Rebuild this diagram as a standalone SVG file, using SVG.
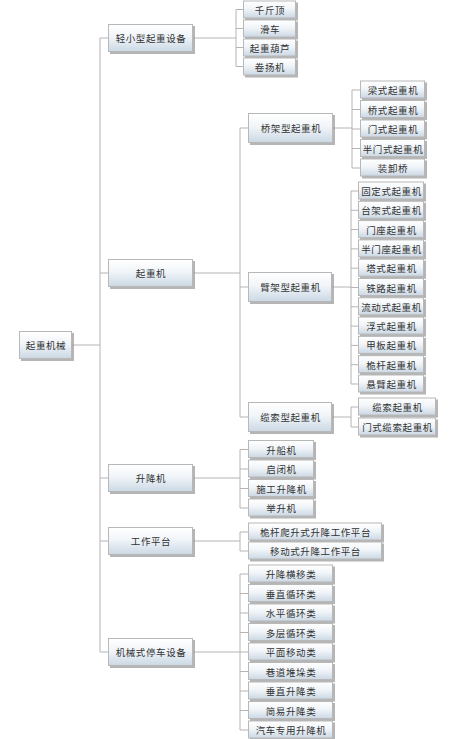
<svg xmlns="http://www.w3.org/2000/svg" width="467" height="739" viewBox="0 0 467 739">
<defs>
<linearGradient id="g" x1="0" y1="0" x2="0" y2="1">
<stop offset="0" stop-color="#ffffff"/>
<stop offset="0.45" stop-color="#f1f5f9"/>
<stop offset="1" stop-color="#cbd8e4"/>
</linearGradient>
</defs>
<style>
.sh{fill:#9c9c9c;opacity:0.75}
.bx{fill:url(#g);stroke:#b8b8b8;stroke-width:1}
.t{font-family:"Noto Sans CJK SC","Noto Sans CJK JP",sans-serif;font-size:9.5px;letter-spacing:0.6px;fill:#333333;text-anchor:middle;dominant-baseline:central}
.c{fill:none;stroke:#b4b4b4;stroke-width:1}
</style>
<rect width="467" height="739" fill="#ffffff"/>
<g id="connectors" class="c">
<path d="M72 345H100M100 38V652M100 38H108M100 273H108M100 478H108M100 541H108M100 652H108"/>
<path d="M193 38H236M236 9.5V66.5M236 9.5H243M236 28.5H243M236 47.5H243M236 66.5H243"/>
<path d="M193 273H240M240 128V417M240 128H248M240 287H248M240 417H248"/>
<path d="M333 128H352M352 90V168M352 90H360M352 109.5H360M352 129H360M352 148.5H360M352 168H360"/>
<path d="M332 287H351M351 191V384M351 191H358M351 210.3H358M351 229.6H358M351 248.9H358M351 268.2H358M351 287.5H358M351 306.8H358M351 326.1H358M351 345.4H358M351 364.7H358M351 384H358"/>
<path d="M332 417H351M351 407V427M351 407H358M351 427H358"/>
<path d="M193 478H240M240 449.5V508M240 449.5H248M240 469H248M240 488.5H248M240 508H248"/>
<path d="M193 541H240M240 532V551M240 532H248M240 551H248"/>
<path d="M193 652H240M240 574V730M240 574H248M240 593.5H248M240 613H248M240 632.5H248M240 652H248M240 671.5H248M240 691H248M240 710.5H248M240 730H248"/>
</g>
<g id="n-root"><rect class="sh" x="21" y="333" width="53" height="28"/><rect class="bx" x="19.5" y="331.5" width="52" height="27"/><text class="t" x="46" y="345">起重机械</text></g>
<g id="n-qxx"><rect class="sh" x="110" y="26" width="85" height="28"/><rect class="bx" x="108.5" y="24.5" width="84" height="27"/><text class="t" x="151" y="38">轻小型起重设备</text></g>
<g id="n-qzj"><rect class="sh" x="110" y="261" width="85" height="28"/><rect class="bx" x="108.5" y="259.5" width="84" height="27"/><text class="t" x="151" y="273">起重机</text></g>
<g id="n-sjj"><rect class="sh" x="110" y="466" width="85" height="28"/><rect class="bx" x="108.5" y="464.5" width="84" height="27"/><text class="t" x="151" y="478">升降机</text></g>
<g id="n-gzpt"><rect class="sh" x="110" y="529" width="85" height="28"/><rect class="bx" x="108.5" y="527.5" width="84" height="27"/><text class="t" x="151" y="541">工作平台</text></g>
<g id="n-tc"><rect class="sh" x="110" y="640" width="85" height="28"/><rect class="bx" x="108.5" y="638.5" width="84" height="27"/><text class="t" x="151" y="652">机械式停车设备</text></g>
<g id="n-qjd"><rect class="sh" x="245" y="2.5" width="53" height="18"/><rect class="bx" x="243.5" y="1" width="52" height="17"/><text class="t" x="270" y="9.5">千斤顶</text></g>
<g id="n-hc"><rect class="sh" x="245" y="21.5" width="53" height="18"/><rect class="bx" x="243.5" y="20" width="52" height="17"/><text class="t" x="270" y="28.5">滑车</text></g>
<g id="n-qzhl"><rect class="sh" x="245" y="40.5" width="53" height="18"/><rect class="bx" x="243.5" y="39" width="52" height="17"/><text class="t" x="270" y="47.5">起重葫芦</text></g>
<g id="n-jyj"><rect class="sh" x="245" y="59.5" width="53" height="18"/><rect class="bx" x="243.5" y="58" width="52" height="17"/><text class="t" x="270" y="66.5">卷扬机</text></g>
<g id="n-qjx"><rect class="sh" x="250" y="115" width="85" height="30"/><rect class="bx" x="248.5" y="113.5" width="84" height="29"/><text class="t" x="291" y="128">桥架型起重机</text></g>
<g id="n-bjx"><rect class="sh" x="250" y="274" width="84" height="30"/><rect class="bx" x="248.5" y="272.5" width="83" height="29"/><text class="t" x="290.5" y="287">臂架型起重机</text></g>
<g id="n-lsx"><rect class="sh" x="250" y="404" width="84" height="30"/><rect class="bx" x="248.5" y="402.5" width="83" height="29"/><text class="t" x="290.5" y="417">缆索型起重机</text></g>
<g id="n-ls"><rect class="sh" x="362" y="82.5" width="65" height="18"/><rect class="bx" x="360.5" y="81" width="64" height="17"/><text class="t" x="393" y="90">梁式起重机</text></g>
<g id="n-qs"><rect class="sh" x="362" y="102" width="65" height="18"/><rect class="bx" x="360.5" y="100.5" width="64" height="17"/><text class="t" x="393" y="109.5">桥式起重机</text></g>
<g id="n-ms"><rect class="sh" x="362" y="121.5" width="65" height="18"/><rect class="bx" x="360.5" y="120" width="64" height="17"/><text class="t" x="393" y="129">门式起重机</text></g>
<g id="n-bms"><rect class="sh" x="362" y="141" width="65" height="18"/><rect class="bx" x="360.5" y="139.5" width="64" height="17"/><text class="t" x="393" y="148.5">半门式起重机</text></g>
<g id="n-zxq"><rect class="sh" x="362" y="160.5" width="65" height="18"/><rect class="bx" x="360.5" y="159" width="64" height="17"/><text class="t" x="393" y="168">装卸桥</text></g>
<g id="n-gds"><rect class="sh" x="360" y="183.5" width="66" height="18"/><rect class="bx" x="358.5" y="182" width="65" height="17"/><text class="t" x="391.5" y="191">固定式起重机</text></g>
<g id="n-tjs"><rect class="sh" x="360" y="202.8" width="66" height="18"/><rect class="bx" x="358.5" y="201.3" width="65" height="17"/><text class="t" x="391.5" y="210.3">台架式起重机</text></g>
<g id="n-mz"><rect class="sh" x="360" y="222.1" width="66" height="18"/><rect class="bx" x="358.5" y="220.6" width="65" height="17"/><text class="t" x="391.5" y="229.6">门座起重机</text></g>
<g id="n-bmz"><rect class="sh" x="360" y="241.4" width="66" height="18"/><rect class="bx" x="358.5" y="239.9" width="65" height="17"/><text class="t" x="391.5" y="248.9">半门座起重机</text></g>
<g id="n-ts"><rect class="sh" x="360" y="260.7" width="66" height="18"/><rect class="bx" x="358.5" y="259.2" width="65" height="17"/><text class="t" x="391.5" y="268.2">塔式起重机</text></g>
<g id="n-tl"><rect class="sh" x="360" y="280" width="66" height="18"/><rect class="bx" x="358.5" y="278.5" width="65" height="17"/><text class="t" x="391.5" y="287.5">铁路起重机</text></g>
<g id="n-lds"><rect class="sh" x="360" y="299.3" width="66" height="18"/><rect class="bx" x="358.5" y="297.8" width="65" height="17"/><text class="t" x="391.5" y="306.8">流动式起重机</text></g>
<g id="n-fs"><rect class="sh" x="360" y="318.6" width="66" height="18"/><rect class="bx" x="358.5" y="317.1" width="65" height="17"/><text class="t" x="391.5" y="326.1">浮式起重机</text></g>
<g id="n-jb"><rect class="sh" x="360" y="337.9" width="66" height="18"/><rect class="bx" x="358.5" y="336.4" width="65" height="17"/><text class="t" x="391.5" y="345.4">甲板起重机</text></g>
<g id="n-wg"><rect class="sh" x="360" y="357.2" width="66" height="18"/><rect class="bx" x="358.5" y="355.7" width="65" height="17"/><text class="t" x="391.5" y="364.7">桅杆起重机</text></g>
<g id="n-xb"><rect class="sh" x="360" y="376.5" width="66" height="18"/><rect class="bx" x="358.5" y="375" width="65" height="17"/><text class="t" x="391.5" y="384">悬臂起重机</text></g>
<g id="n-lsqz"><rect class="sh" x="360" y="399.5" width="78" height="18"/><rect class="bx" x="358.5" y="398" width="77" height="17"/><text class="t" x="397.5" y="407">缆索起重机</text></g>
<g id="n-msls"><rect class="sh" x="360" y="419.5" width="78" height="18"/><rect class="bx" x="358.5" y="418" width="77" height="17"/><text class="t" x="397.5" y="427">门式缆索起重机</text></g>
<g id="n-scj"><rect class="sh" x="250" y="442" width="66" height="18"/><rect class="bx" x="248.5" y="440.5" width="65" height="17"/><text class="t" x="281.5" y="449.5">升船机</text></g>
<g id="n-qbj"><rect class="sh" x="250" y="461.5" width="66" height="18"/><rect class="bx" x="248.5" y="460" width="65" height="17"/><text class="t" x="281.5" y="469">启闭机</text></g>
<g id="n-sgsj"><rect class="sh" x="250" y="481" width="66" height="18"/><rect class="bx" x="248.5" y="479.5" width="65" height="17"/><text class="t" x="281.5" y="488.5">施工升降机</text></g>
<g id="n-jsj"><rect class="sh" x="250" y="500.5" width="66" height="18"/><rect class="bx" x="248.5" y="499" width="65" height="17"/><text class="t" x="281.5" y="508">举升机</text></g>
<g id="n-wgps"><rect class="sh" x="250" y="524.5" width="134" height="18"/><rect class="bx" x="248.5" y="523" width="133" height="17"/><text class="t" x="315.5" y="532">桅杆爬升式升降工作平台</text></g>
<g id="n-yds"><rect class="sh" x="250" y="543.5" width="134" height="18"/><rect class="bx" x="248.5" y="542" width="133" height="17"/><text class="t" x="315.5" y="551">移动式升降工作平台</text></g>
<g id="n-p1"><rect class="sh" x="250" y="566.5" width="85" height="18"/><rect class="bx" x="248.5" y="565" width="84" height="17"/><text class="t" x="291" y="574">升降横移类</text></g>
<g id="n-p2"><rect class="sh" x="250" y="586" width="85" height="18"/><rect class="bx" x="248.5" y="584.5" width="84" height="17"/><text class="t" x="291" y="593.5">垂直循环类</text></g>
<g id="n-p3"><rect class="sh" x="250" y="605.5" width="85" height="18"/><rect class="bx" x="248.5" y="604" width="84" height="17"/><text class="t" x="291" y="613">水平循环类</text></g>
<g id="n-p4"><rect class="sh" x="250" y="625" width="85" height="18"/><rect class="bx" x="248.5" y="623.5" width="84" height="17"/><text class="t" x="291" y="632.5">多层循环类</text></g>
<g id="n-p5"><rect class="sh" x="250" y="644.5" width="85" height="18"/><rect class="bx" x="248.5" y="643" width="84" height="17"/><text class="t" x="291" y="652">平面移动类</text></g>
<g id="n-p6"><rect class="sh" x="250" y="664" width="85" height="18"/><rect class="bx" x="248.5" y="662.5" width="84" height="17"/><text class="t" x="291" y="671.5">巷道堆垛类</text></g>
<g id="n-p7"><rect class="sh" x="250" y="683.5" width="85" height="18"/><rect class="bx" x="248.5" y="682" width="84" height="17"/><text class="t" x="291" y="691">垂直升降类</text></g>
<g id="n-p8"><rect class="sh" x="250" y="703" width="85" height="18"/><rect class="bx" x="248.5" y="701.5" width="84" height="17"/><text class="t" x="291" y="710.5">简易升降类</text></g>
<g id="n-p9"><rect class="sh" x="250" y="722.5" width="85" height="16.5"/><rect class="bx" x="248.5" y="721" width="84" height="17"/><text class="t" x="291" y="729.5">汽车专用升降机</text></g>
</svg>
